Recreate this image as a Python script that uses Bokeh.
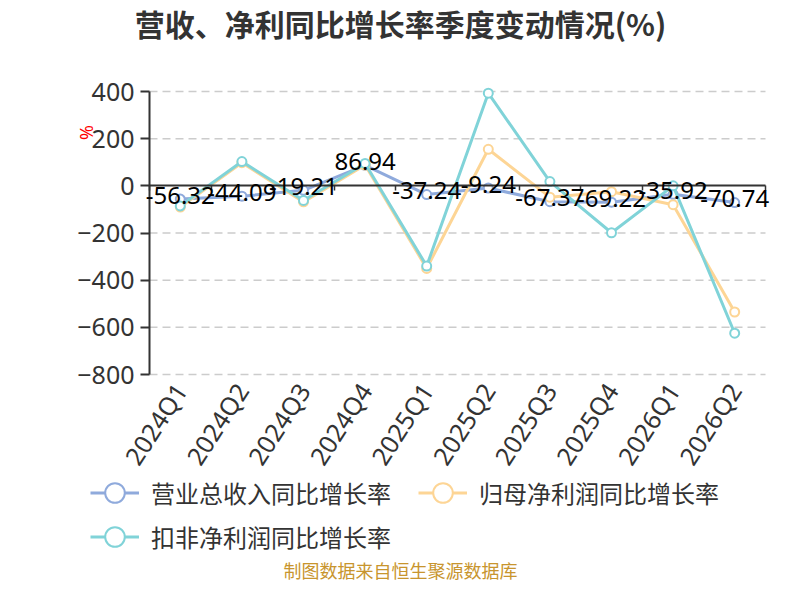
import math
from bokeh.plotting import figure
from bokeh.models import (ColumnDataSource, Range1d, FixedTicker, LinearAxis,
                          Legend, LegendItem, LabelSet, Label)
from bokeh.core.properties import value
from bokeh.embed import file_html
from bokeh.resources import INLINE

# ---------------- data ----------------
categories = ["2024Q1", "2024Q2", "2024Q3", "2024Q4", "2025Q1",
              "2025Q2", "2025Q3", "2025Q4", "2026Q1", "2026Q2"]
revenue_yoy = [-56.32, -44.09, -19.21, 86.94, -37.24, -9.24, -67.37, -69.22, -35.92, -70.74]
parent_np_yoy = [-90, 98, -68, 88, -350, 155, -48, -25, -80, -535]
deducted_np_yoy = [-85, 103, -62, 95, -340, 393, 18, -199, 0, -625]
y_ticks = [-800, -600, -400, -200, 0, 200, 400]
series_names = ["营业总收入同比增长率", "归母净利润同比增长率", "扣非净利润同比增长率"]
series_colors = ["#8FAADC", "#FDD595", "#80D3D8"]
title_text = "营收、净利同比增长率季度变动情况(%)"
unit_text = "%"
source_text = "制图数据来自恒生聚源数据库"

CJK = "Noto Sans CJK SC"
NUM = "Noto Sans"

# ---------------- layout (pixels) ----------------
W, H = 784, 584
PL, PR, PT, PB = 149, 765, 91, 374          # plot area edges in canvas pixels
n = len(categories)
ymin, ymax = min(y_ticks), max(y_ticks)
xppu = (PR - PL) / n
yppu = (PB - PT) / (ymax - ymin)
x_range = Range1d(-0.5 - PL / xppu, n - 0.5 + (W - PR) / xppu)
y_range = Range1d(ymin - (H - PB) / yppu, ymax + PT / yppu)

p = figure(width=W, height=H, output_backend="svg", toolbar_location=None,
           x_range=x_range, y_range=y_range, min_border=0)
p.outline_line_color = None
p.background_fill_color = "white"
p.border_fill_color = "white"
p.title.visible = False
p.xgrid.visible = False
p.ygrid.visible = False

# horizontal dashed grid lines within plot area
grid_vals = [t for t in y_ticks if t != 0]
p.segment(x0=-0.5, x1=n - 0.5, y0=grid_vals, y1=grid_vals,
          line_color="#cccccc", line_dash="8 5", line_width=1.5)

# category label axis (bottom of plot area)
xa = p.below[0]
xa.fixed_location = ymin
xa.bounds = (-0.5, n - 0.5)
xa.ticker = FixedTicker(ticks=list(range(n)))
xa.major_label_overrides = {i: c for i, c in enumerate(categories)}
xa.major_label_orientation = math.radians(57)
xa.axis_line_color = None
xa.major_tick_line_color = None
xa.minor_tick_line_color = None
xa.major_tick_out = 0
xa.major_label_standoff = 11
xa.major_label_text_font = NUM
xa.major_label_text_font_size = "25px"
xa.major_label_text_color = "#333333"

# zero line axis with boundary ticks
zero_axis = LinearAxis(fixed_location=0, bounds=(-0.5, n - 0.5),
                       ticker=FixedTicker(ticks=[i - 0.5 for i in range(n + 1)]),
                       axis_line_color="#333333", axis_line_width=2,
                       major_tick_out=5, major_tick_in=0,
                       major_tick_line_color="#333333", major_tick_line_width=1.5,
                       minor_tick_line_color=None,
                       major_label_text_alpha=0, major_label_text_font_size="1px")
p.add_layout(zero_axis, "below")

# y axis
ya = p.left[0]
ya.fixed_location = -0.5
ya.bounds = (ymin, ymax)
ya.ticker = FixedTicker(ticks=y_ticks)
ya.axis_line_color = "#333333"
ya.axis_line_width = 2
ya.major_tick_out = 9
ya.major_tick_in = 0
ya.major_tick_line_color = "#333333"
ya.major_tick_line_width = 2
ya.minor_tick_line_color = None
ya.major_label_standoff = 6
ya.major_label_text_font = NUM
ya.major_label_text_font_size = "25px"
ya.major_label_text_color = "#333333"

items = []
sources = []
for name, vals, color in zip(series_names, [revenue_yoy, parent_np_yoy, deducted_np_yoy], series_colors):
    src = ColumnDataSource(dict(x=list(range(n)), y=vals))
    sources.append(src)
    lr = p.line("x", "y", source=src, line_color=color, line_width=3)
    sr = p.scatter("x", "y", source=src, marker="circle", size=9, fill_color="white",
                   line_color=color, line_width=2)
    items.append(LegendItem(label=name, renderers=[lr, sr]))

# data labels for revenue series
sources[0].data["label"] = [f"{v:.2f}" for v in revenue_yoy]
labels = LabelSet(x="x", y="y", text="label", source=sources[0], text_align="center",
                  text_baseline="middle", y_offset=4, text_font=value(NUM),
                  text_font_size="24px", text_color="black")
p.add_layout(labels)

legend_kw = dict(orientation="horizontal", glyph_width=49, glyph_height=49, label_standoff=12,
                 label_width=257, spacing=10, padding=0, margin=0, border_line_color=None,
                 background_fill_alpha=0, label_text_font=CJK, label_text_font_size="24px",
                 label_text_color="#333333", label_text_baseline="middle")
leg1 = Legend(items=items[:2], location=(90, H - 517), **legend_kw)
leg2 = Legend(items=items[2:], location=(90, H - 561), **legend_kw)
p.add_layout(leg1, "center")
p.add_layout(leg2, "center")

p.add_layout(Label(x=400, y=H - 22, x_units="screen", y_units="screen", text=title_text,
                   text_align="center", text_baseline="middle", text_font=CJK,
                   text_font_size="30px", text_font_style="bold", text_color="#333333"))
p.add_layout(Label(x=85, y=H - 132, x_units="screen", y_units="screen", text=unit_text,
                   angle=math.pi / 2, text_align="center", text_baseline="middle",
                   text_font=NUM, text_font_size="18px", text_color="#ff0000"))
p.add_layout(Label(x=400, y=H - 569, x_units="screen", y_units="screen", text=source_text,
                   text_align="center", text_baseline="middle", text_font=CJK,
                   text_font_size="18px", text_color="#C8952E"))

with open("out.html", "w", encoding="utf-8") as f:
    f.write(file_html(p, INLINE))
